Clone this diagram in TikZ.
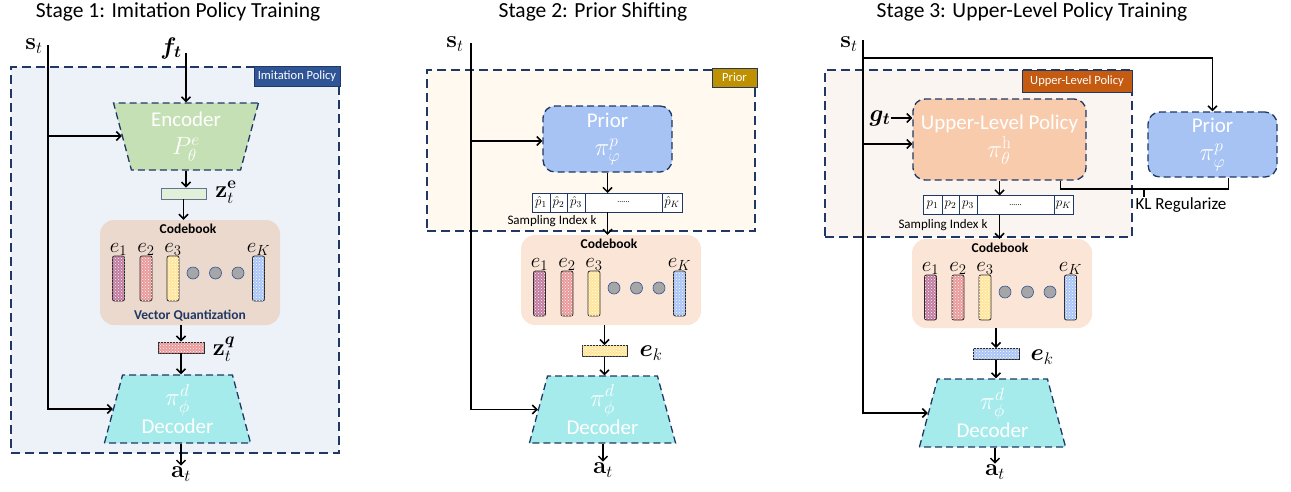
\RequirePackage{fix-cm}
\documentclass[tikz,border=0pt]{standalone}
\usepackage[no-math]{fontspec}
\setmainfont{Carlito}
\usepackage{amsmath, amssymb}
\usepackage{bm}
\usetikzlibrary{arrows.meta, positioning, shapes.geometric, patterns}

\definecolor{navy}{HTML}{203864}
\definecolor{tagblue}{HTML}{2F5597}
\definecolor{taggold}{HTML}{BF9000}
\definecolor{tagorange}{HTML}{C55A11}
\definecolor{bgblue}{HTML}{EDF2F9}
\definecolor{bgcream}{HTML}{FFF9EF}
\definecolor{bgpeach}{HTML}{FBF5F2}
\definecolor{encgreen}{HTML}{C5E0B4}
\definecolor{zgreen}{HTML}{E2F0D9}
\definecolor{deccyan}{HTML}{A6EBEB}
\definecolor{priorblue}{HTML}{A6C3F4}
\definecolor{ulppeach}{HTML}{F8CBAD}
\definecolor{cbgray}{HTML}{EBD9CE}
\definecolor{cbpeach}{HTML}{FBE5D6}
\definecolor{barpurple}{HTML}{C27BA0}
\definecolor{barred}{HTML}{EA9999}
\definecolor{baryellow}{HTML}{FFE599}
\definecolor{barblue}{HTML}{A9C4F5}

% larger maths inside the blocks
\newcommand\blkmath[1]{{\fontsize{25}{27}\selectfont$#1$}}

\tikzset{
  arr/.style={line width=1.5pt, -{Straight Barb[length=4.5pt,width=9pt]}},
  conn/.style={line width=1.5pt},
  title/.style={font=\fontsize{21.5}{24}\selectfont},
  lbl/.style={font=\fontsize{24}{26}\selectfont, inner sep=1pt},
  stagebox/.style={draw=navy, line width=1.6pt, dash pattern=on 9pt off 5pt, inner sep=0pt},
  tagbox/.style={draw=navy, line width=0.8pt, text=white, inner sep=0pt,
    font=\fontsize{12.5}{14}\selectfont},
  block/.style={draw=navy, line width=1.3pt, dash pattern=on 7pt off 4pt,
    text=white, align=center, inner sep=2pt, font=\fontsize{21}{28}\selectfont},
  trap/.style={block, trapezium, trapezium stretches=true, inner sep=0pt},
  vec/.style={draw=navy!70, line width=0.9pt, minimum width=45, minimum height=11, inner sep=0pt},
  hatch/.style={postaction={pattern=crosshatch dots, pattern color=white}},
  cell/.style={draw=navy, line width=1pt, fill=white, minimum height=19, inner sep=0pt,
    outer sep=0pt, font=\fontsize{13}{14}\selectfont},
  small/.style={font=\fontsize{13}{15}\selectfont, inner sep=0pt},
  cbbox/.style={rounded corners=14pt, minimum width=180, inner sep=0pt},
  cbtitle/.style={font=\bfseries\fontsize{13.5}{15}\selectfont, inner sep=0pt},
  elabel/.style={font=\fontsize{21}{22}\selectfont, inner sep=0pt},
  bar/.style={rounded corners=2pt, minimum width=12, minimum height=45, inner sep=0pt,
    draw=black!85, line width=0.8pt, hatch},
  cdot/.style={circle, minimum size=12, inner sep=0pt, fill=black!35, draw=tagblue, line width=0.6pt},
  pics/codebook/.style 2 args={code={
    \node[cbbox, fill=#2, minimum height=#1] (-box) at (90,#1/2) {};
    \node[cbtitle] (-title) at (88,9) {Codebook};
    \node[elabel] (-l1) at (18.5,29.5) {$e_1$};
    \node[elabel] (-l2) at (46,29.5) {$e_2$};
    \node[elabel] (-l3) at (73,29.5) {$e_3$};
    \node[elabel] (-lk) at (158.5,29.5) {$e_K$};
    \node[bar, fill=barpurple] (-b1) at (18.5,58.5) {};
    \node[bar, fill=barred] (-b2) at (46,58.5) {};
    \node[bar, fill=baryellow] (-b3) at (73,58.5) {};
    \node[bar, fill=barblue] (-bk) at (158.5,58.5) {};
    \foreach \x [count=\i] in {93,115.5,138}
      \node[cdot] (-d\i) at (\x,53) {};
  }},
}

\begin{document}
\begin{tikzpicture}[x=1pt, y=-1pt]
\useasboundingbox (0,0) rectangle (1291,491);

% Stage 1
\node[title] (title1) at (178,12) {Stage 1: Imitation Policy Training};
\node[stagebox, fill=bgblue, minimum width=328, minimum height=386] (box1) at (175,260) {};
\node[tagbox, fill=tagblue, minimum width=86, minimum height=20] (tag1) at (297,76) {Imitation Policy};
\node[lbl] (st1) at (34,46) {$\mathbf{s}_t$};
\node[lbl] (ft1) at (171,48) {$\bm{f}_{\bm{t}}$};
\coordinate (ft1in) at (186,53);
\node[trap, shape border rotate=180, trapezium left angle=77, trapezium right angle=77,
  minimum width=146, minimum height=67, fill=encgreen] (enc1) at (186,136.5) {Encoder\\\blkmath{P^{e}_{\theta}}};
\node[vec, fill=zgreen] (ze1) at (183.5,193.5) {};
\node[lbl] (zel1) at (226,192) {$\mathbf{z}^{\mathbf{e}}_t$};
\pic (cb1) at (100,220) {codebook={105}{cbgray}};
\node[cbtitle, text=navy] (vq1) at (190,316) {Vector Quantization};
\node[vec, fill=barred, draw=black!85, minimum width=46, hatch] (zq1) at (181,347.5) {};
\node[lbl] (zql1) at (224,349) {$\mathbf{z}^{\bm{q}}_t$};
\node[trap, trapezium left angle=76.5, trapezium right angle=76.5,
  minimum width=147, minimum height=68, fill=deccyan] (dec1) at (177.5,409) {\blkmath{\pi^{d}_{\phi}}\\Decoder};
\node[lbl] (at1) at (181,474) {$\mathbf{a}_t$};
\coordinate (st1top) at (48,45);
\coordinate (b1) at (48,136);
\draw[arr] (st1top) |- (dec1.west);
\draw[arr] (b1) -- (b1 -| enc1.west);
\draw[arr] (ft1in) -- (ft1in |- enc1.north);
\draw[arr] (enc1.south) -- (enc1.south |- ze1.north);
\draw[arr] (ze1.south) -- (ze1.south |- cb1-box.north);
\draw[arr] (zq1.north |- cb1-box.south) -- (zq1.north);
\draw[arr] (zq1.south) -- (zq1.south |- dec1.north);
\draw[arr] (at1.north |- dec1.south) -- (at1.north);

% Stage 2
\node[title] (title2) at (593,12) {Stage 2: Prior Shifting};
\node[stagebox, fill=bgcream, minimum width=328, minimum height=161] (box2) at (591,150.5) {};
\node[tagbox, fill=taggold, minimum width=45, minimum height=19] (tag2) at (734.5,77.5) {Prior};
\node[lbl] (st2) at (455,44) {$\mathbf{s}_t$};
\node[block, rounded corners=12pt, fill=priorblue, minimum width=129, minimum height=66] (pri2) at (607.5,139) {Prior\\\blkmath{\pi^{p}_{\varphi}}};
\node[cell, minimum width=18] (v2a) at (541,202.5) {$\hat{p}_1$};
\node[cell, minimum width=17, right=0pt of v2a] (v2b) {$\hat{p}_2$};
\node[cell, minimum width=18, right=0pt of v2b] (v2c) {$\hat{p}_3$};
\node[cell, minimum width=77, right=0pt of v2c, font=\fontsize{8}{8}\selectfont] (v2d) {......};
\node[cell, minimum width=20, right=0pt of v2d] (v2e) {$\hat{p}_K$};
\node[small] (samp2) at (552,221) {Sampling Index k};
\pic (cb2) at (521,235) {codebook={90}{cbpeach}};
\node[vec, fill=baryellow, draw=black!85, hatch] (ek2) at (604.5,351) {};
\node[lbl] (ekl2) at (651,353) {$\bm{e}_k$};
\node[trap, trapezium left angle=76.5, trapezium right angle=76.5,
  minimum width=147, minimum height=67, fill=deccyan] (dec2) at (602.5,409.5) {\blkmath{\pi^{d}_{\phi}}\\Decoder};
\node[lbl] (at2) at (603,470) {$\mathbf{a}_t$};
\coordinate (st2top) at (471,43);
\coordinate (b2) at (471,141);
\draw[arr] (st2top) |- (dec2.west);
\draw[arr] (b2) -- (b2 -| pri2.west);
\draw[arr] (pri2.south) -- (pri2.south |- v2a.north);
\draw[arr] (pri2.south |- v2a.south) -- (pri2.south |- cb2-box.north);
\draw[arr] (ek2.north |- cb2-box.south) -- (ek2.north);
\draw[arr] (ek2.south) -- (ek2.south |- dec2.north);
\draw[arr] (at2.north |- dec2.south) -- (at2.north);

% Stage 3
\node[title] (title3) at (1032,12) {Stage 3: Upper-Level Policy Training};
\node[stagebox, fill=bgpeach, minimum width=307, minimum height=167] (box3) at (978.5,153.5) {};
\node[tagbox, fill=tagorange, minimum width=110, minimum height=22] (tag3) at (1077,81) {Upper-Level Policy};
\node[lbl] (st3) at (849,44) {$\mathbf{s}_t$};
\node[block, rounded corners=12pt, fill=ulppeach, minimum width=173, minimum height=81] (ulp) at (999.5,139.5) {Upper-Level Policy\\\blkmath{\pi^{\mathrm{h}}_{\theta}}};
\node[block, rounded corners=12pt, fill=priorblue, minimum width=129, minimum height=65] (pri3) at (1212.5,144.5) {Prior\\\blkmath{\pi^{p}_{\varphi}}};
\node[lbl] (gt3) at (880,118) {$\bm{g}_{\bm{t}}$};
\node[cell, minimum width=19] (v3a) at (932.5,205) {$p_1$};
\node[cell, minimum width=17, right=0pt of v3a] (v3b) {$p_2$};
\node[cell, minimum width=18, right=0pt of v3b] (v3c) {$p_3$};
\node[cell, minimum width=77, right=0pt of v3c, font=\fontsize{8}{8}\selectfont] (v3d) {......};
\node[cell, minimum width=19, right=0pt of v3d] (v3e) {$p_K$};
\node[small] (samp3) at (943,225) {Sampling Index k};
\node[font=\fontsize{17}{19}\selectfont, inner sep=0pt] (kl3) at (1181,205) {KL Regularize};
\coordinate (klmid) at (1144,189);
\pic (cb3) at (912,239) {codebook={89}{cbpeach}};
\node[vec, fill=barblue, draw=black!85, minimum width=46, hatch] (ek3) at (996,354) {};
\node[lbl] (ekl3) at (1042,357) {$\bm{e}_k$};
\node[trap, trapezium left angle=76.5, trapezium right angle=76.5,
  minimum width=147, minimum height=68, fill=deccyan] (dec3) at (992.5,413) {\blkmath{\pi^{d}_{\phi}}\\Decoder};
\node[lbl] (at3) at (995,472) {$\mathbf{a}_t$};
\coordinate (st3top) at (863,40);
\coordinate (b3top) at (863,58);
\coordinate (b3) at (863,144);
\draw[arr] (st3top) |- (dec3.west);
\draw[arr] (b3top) -| (pri3.north);
\draw[arr] (b3) -- (b3 -| ulp.west);
\draw[arr] (gt3.east) -- (gt3.east -| ulp.west);
\draw[conn] ([xshift=-26pt]ulp.south east) |- (klmid) -| ([xshift=-49pt]pri3.south east);
\draw[conn] (klmid) -- (klmid |- kl3.north);
\draw[arr] (ulp.south) -- (ulp.south |- v3a.north);
\draw[arr] (ulp.south |- v3a.south) -- (ulp.south |- cb3-box.north);
\draw[arr] (ek3.north |- cb3-box.south) -- (ek3.north);
\draw[arr] (ek3.south) -- (ek3.south |- dec3.north);
\draw[arr] (at3.north |- dec3.south) -- (at3.north);
\end{tikzpicture}
\end{document}
